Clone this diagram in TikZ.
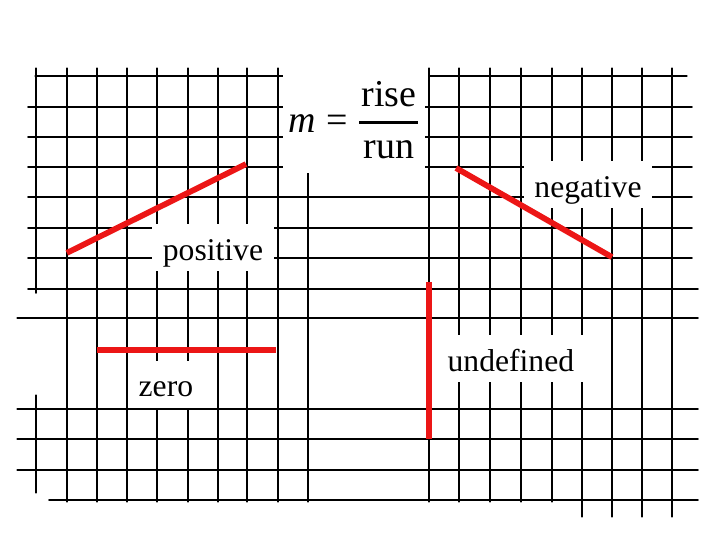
\RequirePackage{fix-cm}
\documentclass[tikz,border=0pt]{standalone}
\usepackage{fontspec}
\setmainfont{Liberation Serif}
\usepackage{pgf,tikz}
\definecolor{slopered}{RGB}{236,22,22}

\begin{document}
\begin{tikzpicture}[line cap=round,line join=round,x=1.0cm,y=1.0cm,
  grd/.style={line width=1.2pt},
  slope/.style={slopered,line width=5.5pt,line cap=butt},
  lbl/.style={fill=white,anchor=base,font=\fontsize{30}{36}\selectfont,
    text height=1.2cm,text depth=0.37cm,inner ysep=0pt,inner xsep=0.35cm}]
\clip(0,0) rectangle (24,18);
\begin{scope}[grd]
\draw (1.17,15.47)-- (9.43,15.47);
\draw (14.3,15.47)-- (22.9,15.47);
\draw (0.93,14.43)-- (9.43,14.43);
\draw (14.17,14.43)-- (23.07,14.43);
\draw (0.93,13.43)-- (9.43,13.43);
\draw (14.17,13.43)-- (23.07,13.43);
\draw (0.93,12.43)-- (9.43,12.43);
\draw (14.17,12.43)-- (23.07,12.43);
\draw (0.93,11.43)-- (23.07,11.43);
\draw (0.93,10.4)-- (23.07,10.4);
\draw (0.93,9.4)-- (23.07,9.4);
\draw (0.93,8.37)-- (23.27,8.37);
\draw (0.57,7.4)-- (23.27,7.4);
\draw (0.57,4.37)-- (23.27,4.37);
\draw (0.57,3.37)-- (23.27,3.37);
\draw (0.57,2.33)-- (23.27,2.33);
\draw (1.63,1.33)-- (23.27,1.33);
\draw (1.2,15.73)-- (1.2,8.23);
\draw (1.2,4.83)-- (1.2,1.57);
\draw (2.23,15.73)-- (2.23,1.27);
\draw (3.23,15.73)-- (3.23,1.27);
\draw (4.23,15.73)-- (4.23,1.27);
\draw (5.23,15.73)-- (5.23,1.27);
\draw (6.27,15.73)-- (6.27,1.27);
\draw (7.27,15.73)-- (7.27,1.27);
\draw (8.23,15.73)-- (8.23,1.27);
\draw (9.27,15.73)-- (9.27,1.27);
\draw (10.27,12.27)-- (10.27,1.27);
\draw (14.3,15.73)-- (14.3,1.27);
\draw (15.3,15.73)-- (15.3,1.27);
\draw (16.33,15.73)-- (16.33,1.27);
\draw (17.37,15.73)-- (17.37,1.27);
\draw (18.4,15.73)-- (18.4,1.27);
\draw (19.4,15.73)-- (19.4,0.77);
\draw (20.4,15.73)-- (20.4,0.77);
\draw (21.4,15.73)-- (21.4,0.77);
\draw (22.4,15.73)-- (22.4,0.77);
\end{scope}
\node[fill=white,inner sep=0pt,minimum width=4.73cm,minimum height=3.5cm,
  font=\fontsize{36}{43}\selectfont] (frm) at (11.8,14.0)
  {$\displaystyle \mbox{\itshape m}\mathrel{\mbox{=}}{\mbox{\kern2pt rise\kern2pt}\above 2.4pt\mbox{run}}$};
\node[lbl] (pos) at (7.1,9.33) {positive};
\node[lbl] (neg) at (19.6,11.43) {negative};
\node[lbl] (zro) at (5.53,4.77) {zero};
\node[lbl] (und) at (17.03,5.63) {undefined};
\draw [slope] (2.23,9.57)-- (8.2,12.53);
\draw [slope] (15.2,12.4)-- (20.4,9.43);
\draw [slope] (3.23,6.33)-- (9.2,6.33);
\draw [slope] (14.3,8.6)-- (14.3,3.37);
\end{tikzpicture}
\end{document}
